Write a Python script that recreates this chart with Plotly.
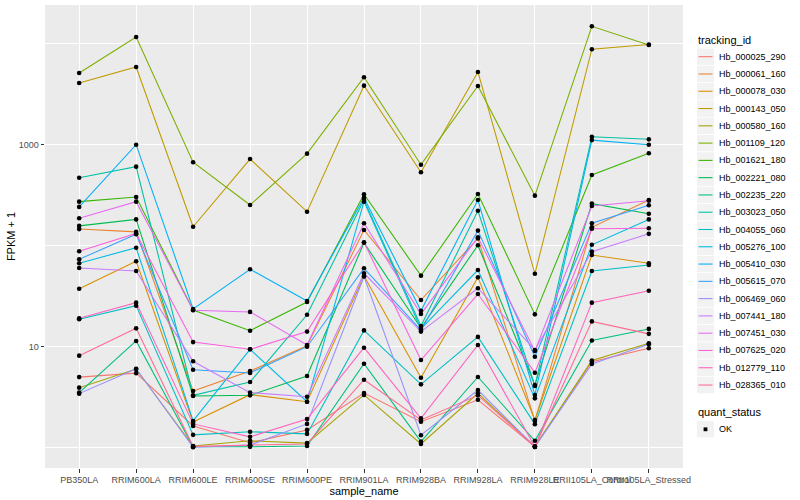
import plotly.graph_objects as go

# ---------------- data ----------------
samples = ["PB350LA", "RRIM600LA", "RRIM600LE", "RRIM600SE", "RRIM600PE",
           "RRIM901LA", "RRIM928BA", "RRIM928LA", "RRIM928LE",
           "RRII105LA_Control", "RRII105LA_Stressed"]

tracking_ids = ["Hb_000025_290", "Hb_000061_160", "Hb_000078_030", "Hb_000143_050",
                "Hb_000580_160", "Hb_001109_120", "Hb_001621_180", "Hb_002221_080",
                "Hb_002235_220", "Hb_003023_050", "Hb_004055_060", "Hb_005276_100",
                "Hb_005410_030", "Hb_005615_070", "Hb_006469_060", "Hb_007441_180",
                "Hb_007451_030", "Hb_007625_020", "Hb_012779_110", "Hb_028365_010"]

# FPKM + 1 per sample (order of `samples`)
hb_000025_290 = [5.0, 5.47, 1.64, 1.12, 1.50, 3.48, 1.81, 2.98, 1.02, 7.10, 9.64]
hb_000061_160 = [146, 137, 3.64, 5.74, 10.2, 143, 29.0, 118, 1.84, 152, 283]
hb_000078_030 = [37.5, 70.1, 1.80, 3.35, 2.85, 50.1, 4.93, 48.6, 1.88, 80.9, 67.0]
hb_000143_050 = [4080, 5880, 154, 721, 217, 3840, 533, 5250, 52.8, 8810, 9820]
hb_000580_160 = [3.93, 6.01, 1.04, 1.17, 1.11, 3.33, 1.09, 3.46, 1.03, 7.30, 10.8]
hb_001109_120 = [5130, 11650, 670, 253, 815, 4650, 634, 3810, 313, 14860, 9710]
hb_001621_180 = [273, 303, 23.1, 14.4, 27.7, 323, 50.5, 325, 20.9, 501, 822]
hb_002221_080 = [157, 182, 3.25, 3.3, 5.13, 107, 15.3, 101, 4.18, 261, 207]
hb_002235_220 = [3.51, 11.4, 1.02, 1.02, 1.04, 6.79, 1.15, 5.01, 1.17, 11.5, 15.0]
hb_003023_050 = [471, 606, 3.30, 4.47, 20.7, 283, 16.0, 222, 4.08, 1200, 1130]
hb_004055_060 = [18.7, 25.5, 1.34, 1.44, 1.37, 14.5, 4.24, 12.5, 1.71, 56.2, 64.4]
hb_005276_100 = [67.0, 95.5, 1.84, 9.42, 2.85, 273, 15.0, 57.4, 3.08, 102, 182]
hb_005410_030 = [242, 1000, 23.6, 58.4, 28.3, 299, 22.7, 283, 3.33, 1110, 1000]
hb_005615_070 = [73.3, 130, 5.92, 5.50, 10.0, 59.7, 14.6, 141, 7.96, 167, 251]
hb_006469_060 = [3.43, 6.05, 1.01, 1.06, 1.72, 49.5, 1.33, 3.72, 1.02, 6.74, 10.6]
hb_007441_180 = [60.1, 56.2, 7.17, 3.51, 3.20, 53.3, 14.1, 37.9, 9.28, 87.3, 131]
hb_007451_030 = [187, 273, 23.0, 22.1, 10.4, 167, 21.1, 121, 9.06, 247, 279]
hb_007625_020 = [88.1, 132, 11.1, 9.42, 14.1, 108, 7.38, 33.2, 5.53, 147, 149]
hb_012779_110 = [19.1, 27.3, 1.72, 1.28, 1.92, 9.77, 1.95, 10.4, 1.02, 27.3, 35.8]
hb_028365_010 = [8.15, 15.2, 1.03, 1.06, 1.09, 4.71, 1.88, 3.30, 1.02, 17.8, 13.4]

series = [hb_000025_290, hb_000061_160, hb_000078_030, hb_000143_050, hb_000580_160,
          hb_001109_120, hb_001621_180, hb_002221_080, hb_002235_220, hb_003023_050,
          hb_004055_060, hb_005276_100, hb_005410_030, hb_005615_070, hb_006469_060,
          hb_007441_180, hb_007451_030, hb_007625_020, hb_012779_110, hb_028365_010]

quant_status = ["OK"]

y_tickvals = [10, 1000]
y_ticktext = ["10", "1000"]
y_minorvals = [1, 100, 10000]

# ---------------- style ----------------
palette = ["#F8766D", "#EA8331", "#D89000", "#C09B00", "#A3A500", "#7CAE00", "#39B600",
           "#00BB4E", "#00BF7D", "#00C1A3", "#00BFC4", "#00BAE0", "#00B0F6", "#35A2FF",
           "#9590FF", "#C77CFF", "#E76BF3", "#FA62DB", "#FF62BC", "#FF6C91"]
FONT = "Liberation Sans, Arial, Helvetica, sans-serif"
W, H = 800, 500
PL, PR, PT, PB = 45, 683, 5, 468   # panel edges in pixels


def px(x):
    return (x - PL) / (PR - PL)


def py(y):
    return (PB - y) / (PB - PT)


fig = go.Figure()

for name, vals, col in zip(tracking_ids, series, palette):
    fig.add_trace(go.Scatter(x=samples, y=vals, mode="lines", name=name,
                             line=dict(color=col, width=1.07), showlegend=False,
                             hoverinfo="x+y+name"))

pts_x = [s for vals in series for s in samples]
pts_y = [v for vals in series for v in vals]
fig.add_trace(go.Scatter(x=pts_x, y=pts_y, mode="markers", name=quant_status[0],
                         marker=dict(color="black", size=4.6), showlegend=False))

# ---------------- manual ggplot-style legends ----------------
shapes = []
annotations = []
LX0, LX1 = 697, 714
TEXT_X = 717
first_y, step = 56.7, 17.28
annotations.append(dict(x=px(696), y=py(40.5), xref="paper", yref="paper", text="tracking_id",
                        showarrow=False, xanchor="left", yanchor="middle",
                        font=dict(family=FONT, size=11, color="black")))
for i, (name, col) in enumerate(zip(tracking_ids, palette)):
    cy = first_y + i * step
    shapes.append(dict(type="rect", xref="paper", yref="paper", x0=px(LX0), x1=px(LX1),
                       y0=py(cy + 8.2), y1=py(cy - 8.2), fillcolor="#F2F2F2", line=dict(width=0),
                       layer="below"))
    shapes.append(dict(type="line", xref="paper", yref="paper", x0=px(LX0 + 1.5), x1=px(LX1 - 1.5),
                       y0=py(cy), y1=py(cy), line=dict(color=col, width=1.07)))
    annotations.append(dict(x=px(TEXT_X), y=py(cy), xref="paper", yref="paper", text=name,
                            showarrow=False, xanchor="left", yanchor="middle",
                            font=dict(family=FONT, size=9, color="black")))

annotations.append(dict(x=px(696), y=py(412.3), xref="paper", yref="paper", text="quant_status",
                        showarrow=False, xanchor="left", yanchor="middle",
                        font=dict(family=FONT, size=11, color="black")))
ok_y = 429.3
shapes.append(dict(type="rect", xref="paper", yref="paper", x0=px(LX0), x1=px(LX1),
                   y0=py(ok_y + 8.2), y1=py(ok_y - 8.2), fillcolor="#F2F2F2", line=dict(width=0)))
shapes.append(dict(type="rect", xref="paper", yref="paper", x0=px(703.6), x1=px(707.4),
                   y0=py(ok_y + 1.9), y1=py(ok_y - 1.9), fillcolor="black", line=dict(width=0)))
annotations.append(dict(x=px(TEXT_X), y=py(ok_y), xref="paper", yref="paper", text=quant_status[0],
                        showarrow=False, xanchor="left", yanchor="middle",
                        font=dict(family=FONT, size=9, color="black")))

fig.update_layout(
    width=W, height=H,
    margin=dict(l=PL, r=W - PR, t=PT, b=H - PB, autoexpand=False),
    paper_bgcolor="white", plot_bgcolor="#EBEBEB",
    font=dict(family=FONT, size=9, color="#4D4D4D"),
    showlegend=False,
    shapes=shapes, annotations=annotations,
    xaxis=dict(type="category", categoryorder="array", categoryarray=samples,
               range=[-0.6, len(samples) - 0.4], showgrid=True, gridcolor="white",
               gridwidth=1.07, zeroline=False, showline=False,
               ticks="outside", ticklen=3.5, tickwidth=1.07, tickcolor="#333333",
               tickangle=0, tickfont=dict(family=FONT, size=9, color="#4D4D4D"),
               title=dict(text="sample_name", standoff=2,
                          font=dict(family=FONT, size=11, color="black")),
               automargin=False),
    yaxis=dict(type="log", range=[-0.201, 4.383], tickmode="array",
               tickvals=y_tickvals, ticktext=y_ticktext,
               showgrid=True, gridcolor="white", gridwidth=1.07, zeroline=False,
               showline=False, ticks="outside", ticklen=3.5, tickwidth=1.07,
               tickcolor="#333333", tickfont=dict(family=FONT, size=9, color="#4D4D4D"),
               minor=dict(tickmode="array", tickvals=y_minorvals, showgrid=True,
                          gridcolor="white", gridwidth=0.53, ticks=""),
               title=dict(text="FPKM + 1", standoff=0,
                          font=dict(family=FONT, size=11, color="black")),
               automargin=False),
)

fig.write_html("out.html", config={"displayModeBar": False},
               post_script="document.body.style.margin='0';")
